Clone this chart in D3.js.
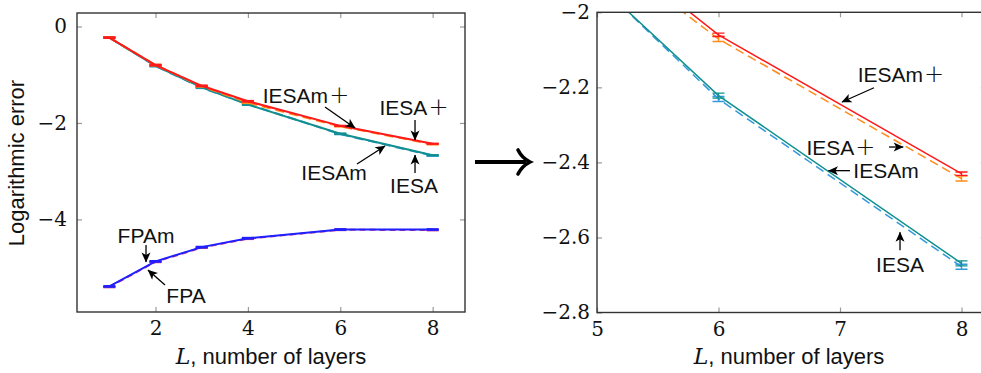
<!DOCTYPE html>
<html><head><meta charset="utf-8">
<script src="https://cdn.jsdelivr.net/npm/d3@7"></script>
<style>
html,body{margin:0;padding:0;background:#fff;}
svg{display:block;}
</style></head><body>
<script>
// ---------- data ----------
const layers = [1, 2, 3, 4, 6, 8];
const iesamPlus = [-0.23, -0.80, -1.23, -1.55, -2.060, -2.430];
const iesaPlus  = [-0.23, -0.80, -1.24, -1.58, -2.071, -2.443];
const iesam     = [-0.23, -0.815, -1.26, -1.62, -2.222, -2.669];
const iesa      = [-0.23, -0.82, -1.27, -1.61, -2.231, -2.678];
const fpam      = [-5.39, -4.87, -4.575, -4.39, -4.21, -4.21];
const fpa       = [-5.40, -4.88, -4.585, -4.40, -4.215, -4.22];
const errIesamPlus = [0.01, 0.01, 0.01, 0.01, 0.0045, 0.0045];
const errIesaPlus  = [0.01, 0.01, 0.01, 0.01, 0.0067, 0.0067];
const errIesam     = [0.01, 0.01, 0.01, 0.01, 0.0067, 0.0067];
const errIesa      = [0.01, 0.01, 0.01, 0.01, 0.0067, 0.0067];
const errFpam      = [0.01, 0.01, 0.01, 0.01, 0.01, 0.01];
const errFpa       = [0.01, 0.01, 0.01, 0.01, 0.01, 0.01];

const leftXTicks = [2, 4, 6, 8];
const leftYTicks = [0, -2, -4];
const rightXTicks = [5, 6, 7, 8];
const rightYTicks = [-2, -2.2, -2.4, -2.6, -2.8];

const xLabelText = ", number of layers";
const yLabelText = "Logarithmic error";

// annotations: [label, textX, textY, arrowFromX, arrowFromY, arrowToX, arrowToY]
const leftNotes = [
  ["IESAm+", 5.258, -1.420, 5.669, -1.669, 6.319, -2.104],
  ["IESA+",  7.596, -1.669, 7.618, -1.939, 7.618, -2.353],
  ["IESAm",  5.864, -3.017, 6.362, -2.851, 6.968, -2.478],
  ["IESA",   7.596, -3.286, 7.618, -3.037, 7.618, -2.664],
  ["FPAm",   1.794, -4.323, 1.794, -4.530, 1.794, -4.883],
  ["FPA",    2.660, -5.567, 2.205, -5.360, 1.837, -5.049]
];
const rightNotes = [
  ["IESAm+", 7.502, -2.1645, 7.280, -2.201, 7.016, -2.239],
  ["IESA+",  7.008, -2.359, 7.403, -2.359, 7.520, -2.359],
  ["IESAm",  7.379, -2.422, 7.082, -2.422, 6.905, -2.422],
  ["IESA",   7.494, -2.671, 7.494, -2.634, 7.494, -2.586]
];

// ---------- drawing ----------
const W = 981, H = 373;
const SERIF = "DejaVu Serif";
const SANS = "Liberation Sans";
const svg = d3.select("body").append("svg").attr("width", W).attr("height", H);
const defs = svg.append("defs");
defs.append("marker").attr("id", "ah").attr("viewBox", "0 0 10 10")
  .attr("refX", 9.5).attr("refY", 5).attr("markerWidth", 11).attr("markerHeight", 10)
  .attr("markerUnits", "userSpaceOnUse").attr("orient", "auto")
  .append("path").attr("d", "M0,0.5 L10,5 L0,9.5 L2.5,5 Z").attr("fill", "#000");

const seriesDefs = [
  {v: fpa, e: errFpa, color: "#d23c80", dash: "6,4"},
  {v: fpam, e: errFpam, color: "#1f1fff", dash: null},
  {v: iesa, e: errIesa, color: "#3399dd", dash: "9,5"},
  {v: iesam, e: errIesam, color: "#12908f", dash: null},
  {v: iesaPlus, e: errIesaPlus, color: "#ff8c1a", dash: "9,5"},
  {v: iesamPlus, e: errIesamPlus, color: "#ff1a1a", dash: null}
];

function addLabel(sel, label) {
  const base = label.replace("+", "");
  sel.append("tspan").text(base);
  if (label.endsWith("+")) sel.append("tspan").attr("font-family", "DejaVu Sans").attr("font-weight", 200)
    .attr("font-size", 24).attr("dx", 1).text("+");
}

function panel(opt) {
  const g = svg.append("g");
  const x = d3.scaleLinear().domain(opt.xd).range([opt.x0, opt.x1]);
  const y = d3.scaleLinear().domain(opt.yd).range([opt.y1, opt.y0]);
  const cid = "clip" + opt.id;
  defs.append("clipPath").attr("id", cid).append("rect")
    .attr("x", opt.x0).attr("y", opt.y0).attr("width", opt.x1 - opt.x0).attr("height", opt.y1 - opt.y0);

  const axB = d3.axisBottom(x).tickValues(opt.xt).tickSize(-5).tickPadding(9).tickFormat(d3.format(""));
  const axT = d3.axisTop(x).tickValues(opt.xt).tickSize(-5).tickFormat("");
  const axL = d3.axisLeft(y).tickValues(opt.yt).tickSize(-5).tickPadding(opt.ypad).tickFormat(d3.format(""));
  const axR = d3.axisRight(y).tickValues(opt.yt).tickSize(-5).tickFormat("");
  const axes = [
    g.append("g").attr("transform", `translate(0,${opt.y1})`).call(axB),
    g.append("g").attr("transform", `translate(0,${opt.y0})`).call(axT),
    g.append("g").attr("transform", `translate(${opt.x0},0)`).call(axL),
    g.append("g").attr("transform", `translate(${opt.x1},0)`).call(axR)
  ];
  axes.forEach(a => {
    a.attr("font-family", SERIF).attr("font-size", 20);
    a.select(".domain").remove();
    a.selectAll(".tick line").attr("stroke", "#9a9a9a").attr("stroke-width", 1.2);
    a.selectAll(".tick text").attr("fill", "#111");
  });

  const plot = g.append("g").attr("clip-path", `url(#${cid})`);
  const line = d3.line().x((d, i) => x(layers[i])).y(d => y(d));
  seriesDefs.forEach(s => {
    plot.append("path").attr("d", line(s.v)).attr("fill", "none")
      .attr("stroke", s.color).attr("stroke-width", opt.lw)
      .attr("stroke-dasharray", s.dash);
    const eb = plot.append("g").attr("stroke", s.color).attr("stroke-width", opt.lw * 0.9);
    s.v.forEach((v, i) => {
      const cx = x(layers[i]), ya = y(v + s.e[i]), yb = y(v - s.e[i]);
      eb.append("line").attr("x1", cx).attr("x2", cx).attr("y1", ya).attr("y2", yb);
      eb.append("line").attr("x1", cx - 6).attr("x2", cx + 6).attr("y1", ya).attr("y2", ya);
      eb.append("line").attr("x1", cx - 6).attr("x2", cx + 6).attr("y1", yb).attr("y2", yb);
    });
  });

  g.append("rect").attr("x", opt.x0).attr("y", opt.y0).attr("width", opt.x1 - opt.x0).attr("height", opt.y1 - opt.y0)
    .attr("fill", "none").attr("stroke", "#333").attr("stroke-width", 1.4);

  opt.notes.forEach(n => {
    g.append("line").attr("x1", x(n[3])).attr("y1", y(n[4])).attr("x2", x(n[5])).attr("y2", y(n[6]))
      .attr("stroke", "#000").attr("stroke-width", 1.3).attr("marker-end", "url(#ah)");
    const t = g.append("text").attr("x", x(n[1])).attr("y", y(n[2]))
      .attr("dy", "0.36em").attr("text-anchor", "middle")
      .attr("font-family", SANS).attr("font-size", 21).attr("fill", "#111");
    addLabel(t, n[0]);
  });

  const xl = g.append("text").attr("x", (opt.x0 + Math.min(opt.x1, W)) / 2).attr("y", 364)
    .attr("text-anchor", "middle").attr("font-family", SANS).attr("font-size", 22).attr("fill", "#111");
  xl.append("tspan").attr("font-family", SERIF).attr("font-style", "italic").attr("font-size", 22).text("L");
  xl.append("tspan").text(xLabelText);
  return {x, y};
}

panel({id: "L", x0: 77, x1: 465, y0: 13, y1: 312, xd: [0.3, 8.7], yd: [-5.92, 0.28],
  xt: leftXTicks, yt: leftYTicks, ypad: 10, lw: 2, notes: leftNotes});
panel({id: "R", x0: 597, x1: 597 + 3.2 * 121.5, y0: 12.3, y1: 312.5, xd: [5, 8.2], yd: [-2.8, -2],
  xt: rightXTicks, yt: rightYTicks, ypad: 7, lw: 1.5, notes: rightNotes});

svg.append("text").attr("transform", "translate(24,163) rotate(-90)")
  .attr("text-anchor", "middle").attr("font-family", SANS).attr("font-size", 22).attr("fill", "#111")
  .text(yLabelText);

// big arrow between panels
svg.append("line").attr("x1", 475).attr("y1", 162).attr("x2", 526).attr("y2", 162)
  .attr("stroke", "#000").attr("stroke-width", 3.8);
svg.append("path").attr("d", "M518,150 Q522,158 530,162 Q522,166 518,174")
  .attr("fill", "none").attr("stroke", "#000").attr("stroke-width", 3.6).attr("stroke-linecap", "round");
</script>
</body></html>
